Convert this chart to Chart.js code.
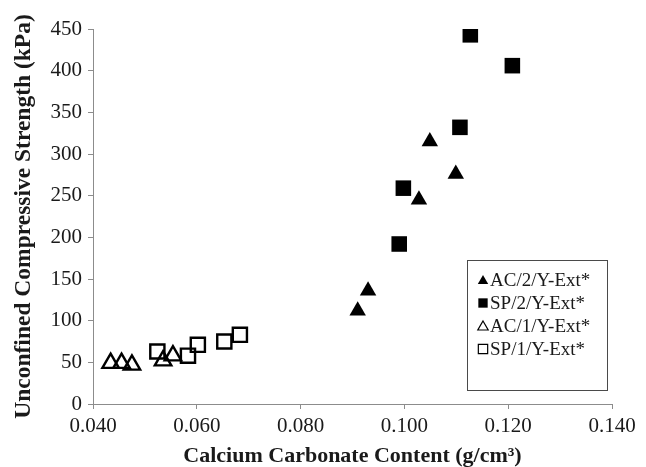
<!DOCTYPE html>
<html>
<head>
<meta charset="utf-8">
<script src="https://cdn.jsdelivr.net/npm/chart.js@4.4.1/dist/chart.umd.min.js"></script>
<style>
    html, body { margin: 0; padding: 0; background: #fff; }
    #wrap { width: 646px; height: 467px; }
</style>
</head>
<body>
<div id="wrap"><canvas id="strength-chart" width="646" height="467"></canvas></div>
<script>
    // values
    var SERIES_LABELS = ['AC/2/Y-Ext*', 'SP/2/Y-Ext*', 'AC/1/Y-Ext*', 'SP/1/Y-Ext*'];

    var AC2_X = [0.0910, 0.0930, 0.1028, 0.1049, 0.1099];
    var AC2_Y = [112, 136, 245, 315, 276];

    var SP2_X = [0.0990, 0.0998, 0.1107, 0.1127, 0.1208];
    var SP2_Y = [192, 259, 332, 443, 406];

    var AC1_X = [0.0434, 0.0455, 0.0475, 0.0535, 0.0554];
    var AC1_Y = [49, 49, 47, 52, 58];

    var SP1_X = [0.0524, 0.0583, 0.0602, 0.0653, 0.0683];
    var SP1_Y = [63, 58, 71, 75, 83];

    var X_TICKS = [0.04, 0.06, 0.08, 0.10, 0.12, 0.14];
    var Y_TICKS = [0, 50, 100, 150, 200, 250, 300, 350, 400, 450];

    var AXIS_GREY = '#8c8c8c';
    var TEXT = '#1a1a1a';
    var SERIF = '"Liberation Serif", "Times New Roman", serif';

    function points(xs, ys) {
        return xs.map(function (x, i) {
            return {x: x, y: ys[i]};
        });
    }

    function series(label, xs, ys, style, filled) {
        var isRect = style === 'rect';
        return {
            label: label,
            data: points(xs, ys),
            pointStyle: style,
            pointRadius: isRect ? (filled ? 11 : 10) : 9.5,
            pointBorderWidth: filled ? 0 : 2.4,
            backgroundColor: filled ? '#000' : 'rgba(0,0,0,0)',
            borderColor: '#000',
            legendRadius: isRect ? 6.6 : 6,
            legendBorder: filled ? 0 : 1.2,
            legendFill: filled
        };
    }

    // boxed legend sitting in the lower right of the plot area
    var boxLegend = {
        id: 'boxLegend',
        afterDraw: function (ch) {
            var ctx = ch.ctx,
                area = ch.chartArea,
                w = 140,
                h = 130,
                right = area.right - 5,
                bottom = area.bottom - 14,
                left = right - w,
                top = bottom - h;

            ctx.save();
            ctx.strokeStyle = '#4a4a4a';
            ctx.lineWidth = 1;
            ctx.strokeRect(Math.round(left) + 0.5, Math.round(top) + 0.5, w, h);

            ctx.font = '19px ' + SERIF;
            ctx.textBaseline = 'middle';
            ctx.textAlign = 'left';

            ch.data.datasets.forEach(function (ds, i) {
                var y = top + 20 + i * 23;

                ctx.fillStyle = ds.legendFill ? '#000' : 'rgba(0,0,0,0)';
                ctx.strokeStyle = '#000';
                ctx.lineWidth = ds.legendBorder;
                Chart.helpers.drawPoint(ctx, {
                    pointStyle: ds.pointStyle,
                    radius: ds.legendRadius,
                    borderWidth: ds.legendBorder,
                    rotation: 0
                }, left + 16, y + (ds.pointStyle === 'triangle' ? 1 : 0));

                ctx.fillStyle = TEXT;
                ctx.fillText(ds.label, left + 23, y + 1);
            });
            ctx.restore();
        }
    };

    new Chart(document.getElementById('strength-chart'), {
        type: 'scatter',
        data: {
            datasets: [
                series(SERIES_LABELS[0], AC2_X, AC2_Y, 'triangle', true),
                series(SERIES_LABELS[1], SP2_X, SP2_Y, 'rect', true),
                series(SERIES_LABELS[2], AC1_X, AC1_Y, 'triangle', false),
                series(SERIES_LABELS[3], SP1_X, SP1_Y, 'rect', false)
            ]
        },
        options: {
            responsive: false,
            animation: false,
            layout: {
                padding: {left: 0, top: 29, right: 34, bottom: 0}
            },
            plugins: {
                legend: {display: false},
                tooltip: {enabled: false}
            },
            scales: {
                x: {
                    type: 'linear',
                    min: X_TICKS[0],
                    max: X_TICKS[X_TICKS.length - 1],
                    afterBuildTicks: function (axis) {
                        axis.ticks = X_TICKS.map(function (v) {
                            return {value: v};
                        });
                    },
                    afterFit: function (axis) {
                        axis.height = 63;
                    },
                    border: {display: true, color: AXIS_GREY, width: 1},
                    grid: {
                        drawOnChartArea: false,
                        drawTicks: true,
                        tickLength: 5,
                        color: AXIS_GREY
                    },
                    ticks: {
                        padding: 5,
                        color: TEXT,
                        font: {family: SERIF, size: 21},
                        maxRotation: 0,
                        callback: function (v) {
                            return Number(v).toFixed(3);
                        }
                    },
                    title: {
                        display: true,
                        text: 'Calcium Carbonate Content (g/cm³)',
                        color: TEXT,
                        font: {family: SERIF, size: 22, weight: 'bold'},
                        padding: {top: 0, bottom: -3}
                    }
                },
                y: {
                    type: 'linear',
                    min: Y_TICKS[0],
                    max: Y_TICKS[Y_TICKS.length - 1],
                    afterBuildTicks: function (axis) {
                        axis.ticks = Y_TICKS.map(function (v) {
                            return {value: v};
                        });
                    },
                    afterFit: function (axis) {
                        axis.width = 93;
                    },
                    border: {display: true, color: AXIS_GREY, width: 1},
                    grid: {
                        drawOnChartArea: false,
                        drawTicks: true,
                        tickLength: 5,
                        color: AXIS_GREY
                    },
                    ticks: {
                        padding: 6,
                        color: TEXT,
                        font: {family: SERIF, size: 21}
                    },
                    title: {
                        display: true,
                        text: 'Unconfined Compressive Strength (kPa)',
                        color: TEXT,
                        font: {family: SERIF, size: 23.5, weight: 'bold'},
                        padding: {top: 10, bottom: 0}
                    }
                }
            }
        },
        plugins: [boxLegend]
    });
</script>
</body>
</html>
